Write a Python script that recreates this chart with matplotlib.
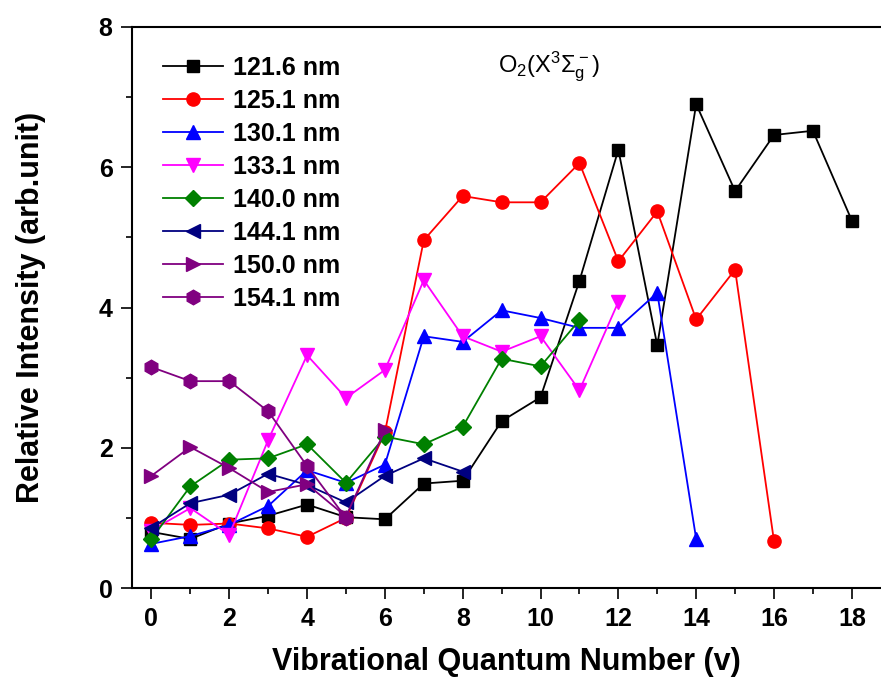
import numpy as np
from matplotlib import pyplot as plt
from matplotlib.ticker import MultipleLocator

plt.rcParams['font.family'] = ['Liberation Sans', 'DejaVu Sans']
plt.rcParams['mathtext.fontset'] = 'custom'
plt.rcParams['mathtext.rm'] = 'Liberation Sans'

# relative intensity for each emission line, starting at v = 0
i_1216 = [0.80, 0.70, 0.92, 1.03, 1.19, 1.01, 0.98, 1.49, 1.53, 2.38,
          2.72, 4.38, 6.25, 3.46, 6.90, 5.66, 6.46, 6.52, 5.24]
i_1251 = [0.93, 0.90, 0.92, 0.85, 0.73, 1.00, 2.22, 4.96, 5.59, 5.50,
          5.50, 6.06, 4.66, 5.37, 3.83, 4.54, 0.67]
i_1301 = [0.63, 0.74, 0.90, 1.17, 1.68, 1.50, 1.76, 3.59, 3.51, 3.96,
          3.85, 3.71, 3.71, 4.21, 0.70]
i_1331 = [0.82, 1.14, 0.76, 2.11, 3.32, 2.71, 3.11, 4.39, 3.59, 3.37,
          3.59, 2.82, 4.08]
i_1400 = [0.70, 1.45, 1.83, 1.85, 2.05, 1.50, 2.16, 2.05, 2.30, 3.27,
          3.16, 3.82]
i_1441 = [0.86, 1.21, 1.33, 1.63, 1.47, 1.22, 1.60, 1.85, 1.66]
i_1500 = [1.60, 2.01, 1.71, 1.37, 1.48, 1.02, 2.25]
i_1541 = [3.15, 2.95, 2.95, 2.52, 1.74, 1.00]

labels = ["121.6 nm", "125.1 nm", "130.1 nm", "133.1 nm",
          "140.0 nm", "144.1 nm", "150.0 nm", "154.1 nm"]
series = [i_1216, i_1251, i_1301, i_1331, i_1400, i_1441, i_1500, i_1541]
colors = ["black", "red", "blue", "#FF00FF", "#008000", "#000080", "#800080", "#800080"]
markers = ["s", "o", "^", "v", "D", "<", ">", "h"]
msizes = [8.5, 9.5, 10.5, 10.5, 8.5, 10.5, 10.5, 10.5]


def main():
    fig = plt.figure(figsize=(8.81, 6.78), dpi=100)
    ax = fig.add_axes([0.1498, 0.1327, 0.8502, 0.8275])

    for y, lab, c, m, ms in zip(series, labels, colors, markers, msizes):
        v = np.arange(len(y))
        ax.plot(v, y, color=c, marker=m, markersize=ms, lw=1.3,
                markeredgecolor=c, label=lab)

    ax.set_xlim(-0.5, 18.75)
    ax.set_ylim(0, 8)
    ax.xaxis.set_major_locator(MultipleLocator(2))
    ax.xaxis.set_minor_locator(MultipleLocator(1))
    ax.yaxis.set_major_locator(MultipleLocator(2))
    ax.yaxis.set_minor_locator(MultipleLocator(1))
    ax.tick_params(which='major', direction='out', length=8, width=1.2,
                   labelsize=18, pad=6)
    ax.tick_params(which='minor', direction='out', length=4.5, width=1.2)
    for t in ax.get_xticklabels() + ax.get_yticklabels():
        t.set_fontweight('bold')
    for s in ['left', 'bottom', 'top']:
        ax.spines[s].set_linewidth(1.5)
    ax.spines['right'].set_visible(False)

    ax.set_xlabel("Vibrational Quantum Number (v)", fontsize=22,
                  fontweight='bold', labelpad=11)
    ax.set_ylabel("Relative Intensity (arb.unit)", fontsize=22,
                  fontweight='bold', labelpad=38)

    ax.text(10.23, 7.35, r'$\mathregular{O_2(X^3\Sigma_g^-)}$', fontsize=17,
            ha='center', va='baseline')

    ax.legend(loc='upper left', bbox_to_anchor=(0.041, 0.948), frameon=False,
              borderpad=0, borderaxespad=0, handlelength=2.4,
              handletextpad=0.4, labelspacing=0.36,
              prop={'size': 18, 'weight': 'bold'})

    fig.savefig("out.png", dpi=100)


if __name__ == "__main__":
    main()
